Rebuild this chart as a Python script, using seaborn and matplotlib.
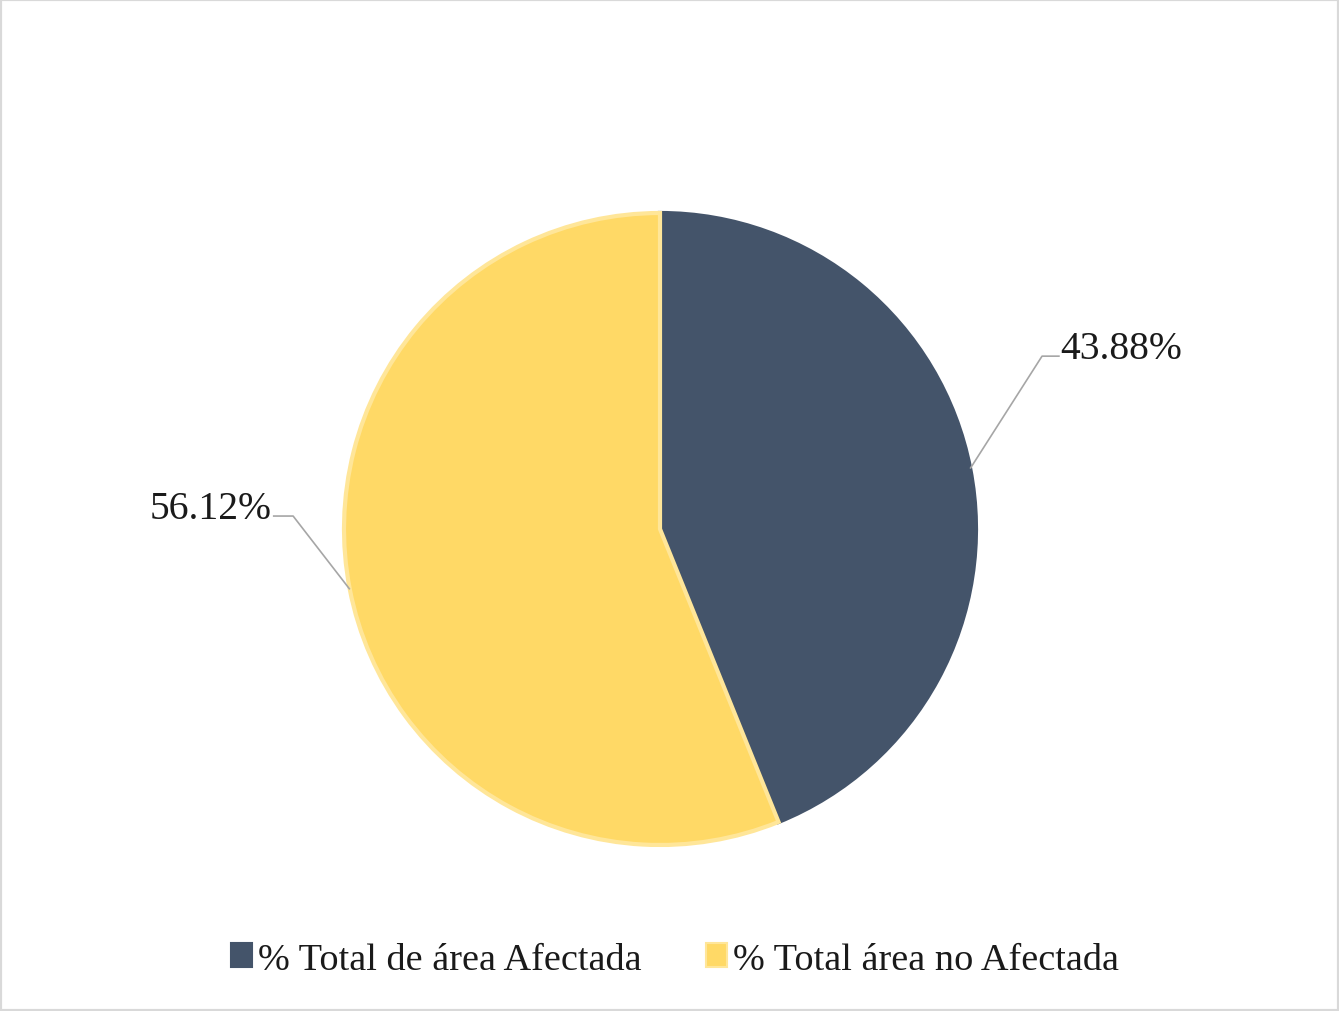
import numpy as np
import matplotlib
matplotlib.use("Agg")
import matplotlib.pyplot as plt
from matplotlib.patches import Rectangle, Patch
import seaborn as sns

# Share of total area
categories = ["% Total de área Afectada", "% Total área no Afectada"]
values = [43.88, 56.12]
value_labels = ["43.88%", "56.12%"]
colors = ["#44546A", "#FFD966"]
edge_colors = ["#44546A", "#FFE699"]

sns.set_theme(style="white")
plt.rcParams["font.family"] = ["Liberation Serif", "DejaVu Serif"]

W, H = 1339, 1012
fig = plt.figure(figsize=(W / 100, H / 100), dpi=100)
fig.patch.set_facecolor("white")

# Pie axes: centre (660, 530) px, radius 316 px
cx, cy, r = 660, 530, 316
ax = fig.add_axes([(cx - r) / W, (H - cy - r) / H, 2 * r / W, 2 * r / H])

wedges, _ = ax.pie(values, colors=colors, startangle=90, counterclock=False,
                   wedgeprops=dict(linewidth=3))
for w, ec in zip(wedges, edge_colors):
    w.set_edgecolor(ec)
ax.set_xlim(-1, 1)
ax.set_ylim(-1, 1)
ax.set_aspect("auto")
ax.axis("off")

# Data labels with leader lines from each wedge's mid-angle
elbows = [(1.209, 0.547), (-1.161, 0.041)]
line_ends = [(1.265, 0.547), (-1.225, 0.041)]
for w, lab, elb, end in zip(wedges, value_labels, elbows, line_ends):
    mid = np.deg2rad((w.theta1 + w.theta2) / 2)
    ax.plot([np.cos(mid), elb[0], end[0]], [np.sin(mid), elb[1], end[1]],
            color="#A6A6A6", lw=1.2, clip_on=False, solid_capstyle="butt")
    ha = "left" if end[0] > 0 else "right"
    ax.text(end[0] + (0.003 if ha == "left" else -0.003), end[1] - 0.005, lab,
            ha=ha, va="baseline", fontsize=28.5, color="#1a1a1a")

handles = [Patch(facecolor=c, edgecolor=ec, linewidth=1.5)
           for c, ec in zip(colors, edge_colors)]
fig.legend(handles, categories, loc="center", bbox_to_anchor=(0.504, 0.051),
           ncol=2, frameon=False, fontsize=27.5, handlelength=0.55,
           handleheight=0.6, handletextpad=0.15, columnspacing=1.7,
           labelcolor="#1a1a1a")

fig.add_artist(Rectangle((0, 0), 1, 1, transform=fig.transFigure, fill=False,
                         edgecolor="#D9D9D9", linewidth=3))

fig.savefig("out.png", dpi=100, facecolor="white")
